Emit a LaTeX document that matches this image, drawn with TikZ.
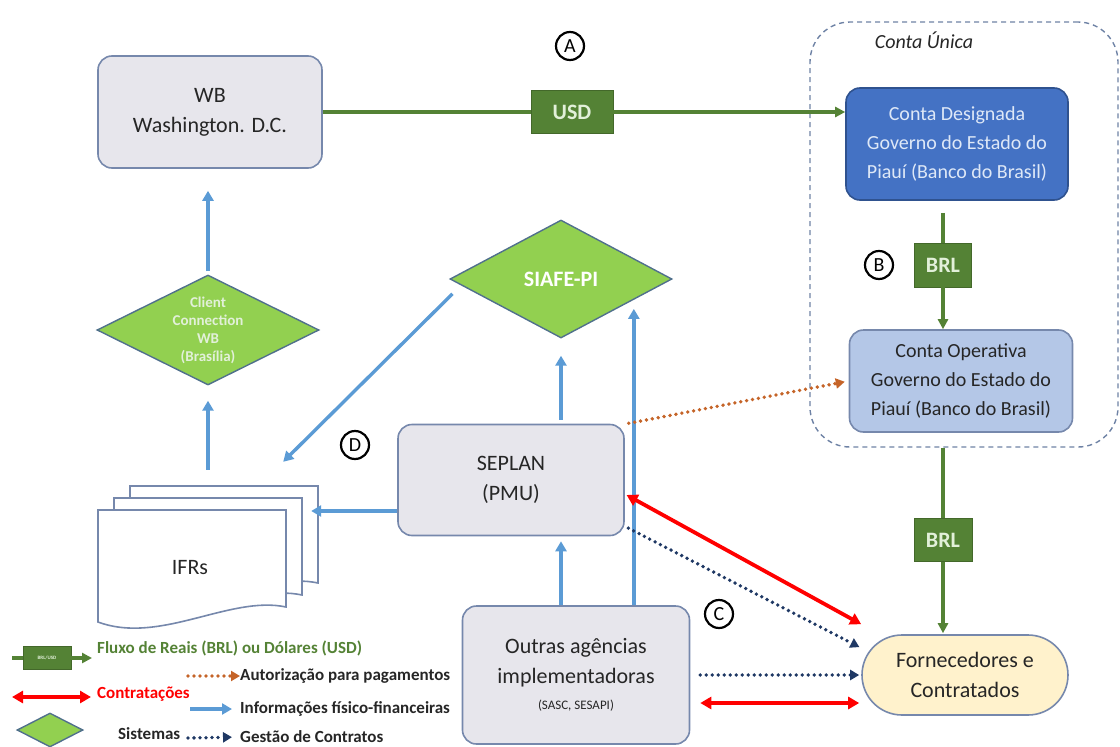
\documentclass[tikz,border=0pt]{standalone}
\usepackage{fontspec}
\setmainfont{Carlito}
\usetikzlibrary{shapes.geometric,arrows.meta}
\definecolor{boxgrey}{RGB}{231,230,236}
\definecolor{edge}{RGB}{118,136,172}
\definecolor{ink}{RGB}{38,38,38}
\definecolor{acctdark}{RGB}{68,114,196}
\definecolor{acctedge}{RGB}{47,82,143}
\definecolor{accttext}{RGB}{222,232,247}
\definecolor{acctlight}{RGB}{180,199,231}
\definecolor{moneygreen}{RGB}{84,130,53}
\definecolor{moneytext}{RGB}{226,240,217}
\definecolor{sysgreen}{RGB}{146,208,80}
\definecolor{sysedge}{RGB}{80,112,140}
\definecolor{infoblue}{RGB}{91,155,213}
\definecolor{payorange}{RGB}{197,100,40}
\definecolor{navy}{RGB}{31,56,100}
\definecolor{suppl}{RGB}{255,242,204}
\definecolor{regionedge}{RGB}{110,130,165}
\begin{document}
\begin{tikzpicture}[x=1pt,y=-1pt,
    box/.style={draw=edge, line width=1.6pt, rounded corners=14pt, fill=boxgrey,
      text=ink, align=center, inner sep=0pt, font=\fontsize{22}{30}\selectfont},
    acct/.style={box, draw=acctedge, fill=acctdark, text=accttext,
      font=\fontsize{20}{29}\selectfont},
    money/.style={fill=moneygreen, draw=moneygreen!80!black, text=moneytext,
      inner sep=0pt, font=\bfseries\fontsize{22}{26}\selectfont},
    sys/.style={diamond, draw=sysedge, line width=1.4pt, fill=sysgreen, inner sep=0pt},
    letter/.style={circle, draw, line width=2.2pt, minimum size=28pt, inner sep=0pt,
      font=\fontsize{20}{20}\selectfont},
    doc/.style={draw=edge, line width=1.6pt, fill=white},
    flow/.style={draw=moneygreen, line width=3.2pt, -{Triangle[length=10pt,width=10pt]}},
    info/.style={draw=infoblue, line width=3.4pt, -{Triangle[length=10pt,width=11pt]}},
    hire/.style={draw=red, line width=3.8pt,
      {Triangle[length=11pt,width=12pt]}-{Triangle[length=11pt,width=12pt]}},
    pay/.style={draw=payorange, line width=3.8pt, dash pattern=on 0pt off 6pt,
      line cap=round, -{Triangle[length=9pt,width=10pt]}},
    manage/.style={pay, draw=navy},
    legend/.style={anchor=west, inner sep=0pt, font=\bfseries\fontsize{17}{20}\selectfont}]
  \useasboundingbox (0,0) rectangle (1120,747);
  % conta unica
  \node[draw=regionedge, line width=1.4pt, dash pattern=on 5pt off 4pt,
    rounded corners=40pt, minimum width=308pt, minimum height=425pt] (unica) at (964,234.5) {};
  \node[font=\itshape\fontsize{20}{24}\selectfont, text=ink] (unicalbl) at (924,40) {Conta Única};
  % boxes
  \node[box, minimum width=224pt, minimum height=112pt] (wb) at (210,112) {WB\\Washington. D.C.};
  \node[acct, minimum width=222pt, minimum height=112pt] (designada) at (957,144)
    {Conta Designada\\Governo do Estado do\\Piauí (Banco do Brasil)};
  \node[acct, fill=acctlight, draw=edge, text=ink, minimum width=223pt, minimum height=102pt]
    (operativa) at (961,381) {Conta Operativa\\Governo do Estado do\\Piauí (Banco do Brasil)};
  \node[box, minimum width=226pt, minimum height=111pt] (seplan) at (511,480) {SEPLAN\\(PMU)};
  \node[box, minimum width=227pt, minimum height=138pt] (outras) at (576,675)
    {Outras agências\\implementadoras\\[-4pt]{\fontsize{13}{15}\selectfont(SASC, SESAPI)}};
  \node[box, fill=suppl, rounded corners=40pt, minimum width=206pt, minimum height=80pt]
    (forn) at (965,675) {Fornecedores e\\Contratados};
  % systems
  \node[sys, minimum width=222pt, minimum height=118pt, text=white,
    font=\bfseries\fontsize{22}{26}\selectfont] (siafe) at (561,279) {SIAFE-PI};
  \node[sys, minimum width=222pt, minimum height=110pt] (client) at (208,330) {};
  \node[align=center, text=moneytext, font=\bfseries\fontsize{15}{18}\selectfont]
    (clientlbl) at (client) {Client\\Connection\\WB\\(Brasília)};
  % IFRs
  \foreach \dx/\dy in {32/-24, 16/-12, 0/0} {
    \draw[doc] (98+\dx,510+\dy) -- (286+\dx,510+\dy) -- (286+\dx,607+\dy)
      .. controls (230+\dx,595+\dy) and (160+\dx,645+\dy) .. (98+\dx,622+\dy) -- cycle;
  }
  \node[inner sep=0pt, minimum width=220pt, minimum height=143pt] (stack) at (208,557.5) {};
  \node[font=\fontsize{22}{26}\selectfont, text=ink] (ifrs) at (190,568) {IFRs};
  % money flow
  \node[money, minimum width=82pt, minimum height=43pt] (usd) at (572,112) {USD};
  \node[money, minimum width=57pt, minimum height=44pt] (brlB) at (943,265) {BRL};
  \node[money, minimum width=58pt, minimum height=43pt] (brlC) at (943,540) {BRL};
  \draw[flow, -] (wb.east) -- (usd.west);
  \draw[flow] (usd.east) -- (usd.east -| designada.west);
  \draw[flow, -, shorten <=12pt] (designada.south -| brlB) -- (brlB.north);
  \draw[flow] (brlB.south) -- (operativa.north -| brlB);
  \draw[flow, -] (unica.south -| brlC) -- (brlC.north);
  \draw[flow, shorten >=1pt] (brlC.south) -- (forn.north -| brlC);
  % information
  \draw[info, shorten >=22pt, shorten <=3pt] (client.north) -- (client.north |- wb.south);
  \draw[info, shorten <=16pt, shorten >=15pt] (stack.north) -- (client.south);
  \draw[info, shorten <=4pt] ([shift={(6,12)}]siafe.west) -- ([shift={(-35,-24)}]stack.north east);
  \path ([yshift=-31pt]seplan.west) coordinate (sw);
  \draw[info, shorten >=-7pt] (sw) -- (sw -| stack.east);
  \draw[info, shorten >=17pt, shorten <=4pt] (seplan.north -| siafe.south) -- (siafe.south);
  \draw[info, shorten >=5pt] (outras.north -| siafe.south) -- (seplan.south -| siafe.south);
  \path ([xshift=17pt]siafe.south east) coordinate (sx);
  \draw[info] (outras.north -| sx) -- (sx);
  % contracts and payments
  \draw[pay, shorten <=2pt, shorten >=4pt] ([xshift=2pt]seplan.north east) -- (operativa.west);
  \draw[hire, shorten <=2pt] ([yshift=-14pt]seplan.east) -- ([yshift=10pt]forn.north west);
  \draw[manage, shorten <=4pt, shorten >=2pt] ([yshift=10pt]seplan.south east) -- ([yshift=27pt]forn.west);
  \draw[manage, shorten <=10pt, shorten >=2pt] (outras.east) -- (forn.west);
  \draw[hire, shorten <=10pt, shorten >=2pt] ([yshift=-28pt]outras.east) -- ([yshift=-28pt]forn.west);
  % letters
  \node[letter] (lA) at (570,46) {A};
  \node[letter] (lB) at (879,265) {B};
  \node[letter] (lC) at (719,614) {C};
  \node[letter] (lD) at (355,445) {D};
  % legend
  \node[money, minimum width=48pt, minimum height=23pt, font=\bfseries\fontsize{5}{6}\selectfont]
    (keybox) at (47,658) {BRL/USD};
  \coordinate (keyA) at (12,658);
  \coordinate (keyB) at (92,658);
  \draw[flow, -] (keyA) -- (keybox.west);
  \draw[flow] (keybox.east) -- (keyB);
  \node[legend, text=moneygreen] (keyflow) at (97,648) {Fluxo de Reais (BRL) ou Dólares (USD)};
  \coordinate (keypayA) at (188,676);
  \node[legend, text=ink] (keypay) at (240,676) {Autorização para pagamentos};
  \draw[pay] (keypayA) -- (keypay.west);
  \coordinate (keyhireA) at (12,697);
  \coordinate (keyhireB) at (91,697);
  \draw[hire] (keyhireA) -- (keyhireB);
  \node[legend, text=red] (keyhire) at (97,694) {Contratações};
  \coordinate (keyinfoA) at (190,709);
  \node[legend, text=ink] (keyinfo) at (240,709) {Informações físico-financeiras};
  \draw[info, shorten >=8pt] (keyinfoA) -- (keyinfo.west);
  \node[sys, minimum width=66pt, minimum height=34pt] (keysys) at (50,730) {};
  \node[legend, text=ink] (keysyslbl) at (118,734) {Sistemas};
  \coordinate (keymanA) at (188,738);
  \node[legend, text=ink] (keyman) at (240,737) {Gestão de Contratos};
  \draw[manage, shorten >=8pt] (keymanA) -- (keyman.west);
\end{tikzpicture}
\end{document}
